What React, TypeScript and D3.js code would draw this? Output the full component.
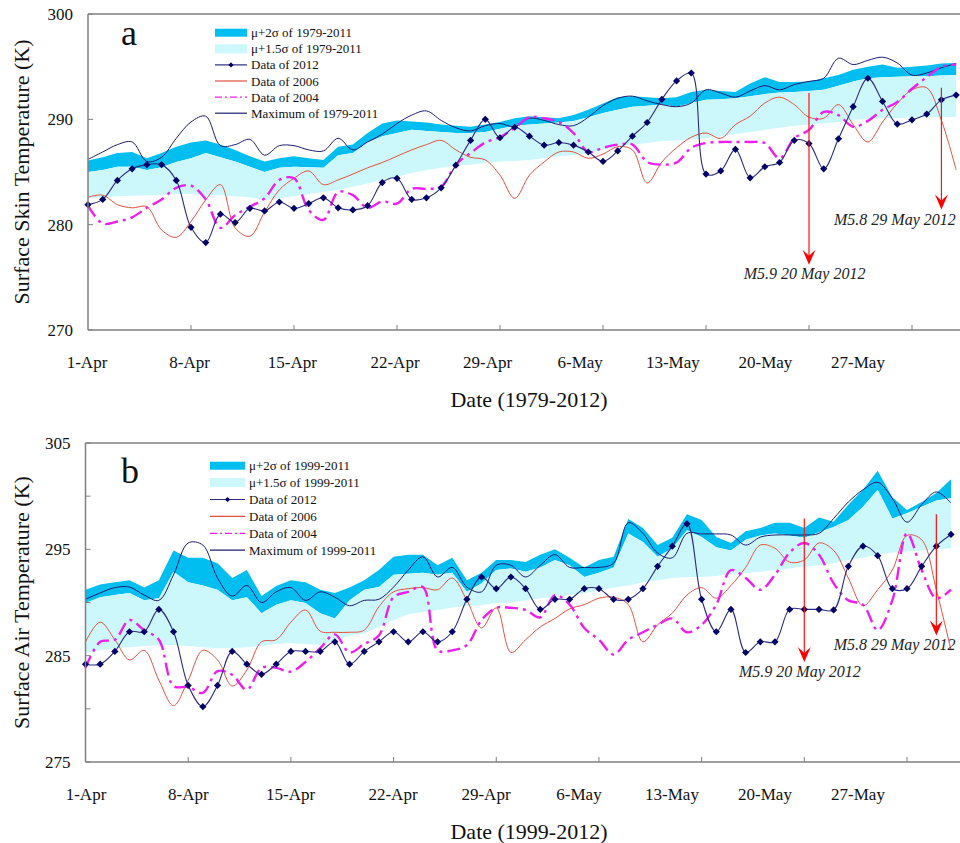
import React from "react";
import * as d3 from "d3";

// ---------- categories ----------
const DAYS = d3.range(60); // 1-Apr .. 30-May (day index)
const TICK_DAYS = [0, 7, 14, 21, 28, 35, 42, 49, 56];
const TICK_LABELS = ["1-Apr", "8-Apr", "15-Apr", "22-Apr", "29-Apr", "6-May", "13-May", "20-May", "27-May"];

// ---------- panel a : surface skin temperature ----------
const A_Y_TICKS = [270, 280, 290, 300];
const A_Y_LABELS = [270, 280, 290, 300];
const A_SIGMA2 = [286.1,286.4,286.8,286.9,286.3,286.8,287.4,287.8,288.0,287.6,
  287.1,286.5,286.0,286.3,286.5,286.3,286.15,287.4,287.6,288.7,
  289.6,289.9,289.8,289.7,289.5,289.4,289.3,289.5,289.75,290.1,
  290.3,290.2,290.1,290.4,290.9,291.5,292.1,292.2,292.1,292.0,
  292.1,292.6,292.8,292.7,292.6,293.4,294.0,293.55,293.55,293.6,
  293.9,294.2,294.7,295.0,295.2,294.9,295.0,295.1,295.3,295.35];
const A_SIGMA15 = [285.0,285.2,285.5,285.5,285.2,285.45,285.95,286.3,286.8,286.4,
  286.0,285.5,285.0,285.4,285.5,285.45,285.4,286.6,286.8,287.8,
  288.4,288.7,289.0,288.9,288.8,288.7,288.7,288.8,289.1,289.4,
  289.5,289.6,289.7,289.85,290.2,290.6,290.9,291.2,291.3,291.4,
  291.2,291.55,291.85,291.9,292.0,292.2,292.4,292.55,292.6,292.7,
  292.8,293.2,293.6,293.9,294.0,294.05,294.1,294.1,294.15,294.2];
const A_BASE = [282.5,282.6,282.7,282.75,282.8,282.8,282.9,282.9,282.8,282.8,
  282.7,282.6,282.35,282.5,282.7,282.9,283.1,283.3,283.6,283.9,
  284.25,284.55,284.9,285.2,285.4,285.6,285.7,285.85,286.0,286.05,
  286.15,286.3,286.5,286.6,286.8,287.1,287.4,287.6,287.75,287.95,
  288.0,288.1,288.2,288.4,288.6,288.8,289.0,289.2,289.4,289.5,
  289.6,289.75,289.95,290.0,290.1,290.1,290.2,290.2,290.2,290.25];
const A_2012 = [281.9,282.4,284.2,285.3,285.7,285.7,284.2,279.75,278.3,281.0,
  280.2,281.55,281.3,282.15,281.55,282.0,282.55,281.6,281.4,281.8,
  284.0,284.4,282.4,282.55,283.5,285.65,288.0,290.0,288.25,289.25,
  288.4,287.55,287.8,287.55,286.9,286.0,287.0,288.4,289.7,291.9,
  293.65,294.4,284.8,285.1,287.15,284.45,285.5,285.9,288.0,287.7,
  285.3,288.15,291.2,293.9,291.7,289.55,289.95,290.5,291.85,292.3];
const A_2006 = [282.6,282.8,281.9,281.6,281.7,279.5,278.8,280.3,282.35,283.8,
  279.7,278.9,281.2,283.3,284.4,285.1,283.8,284.25,284.8,285.4,
  285.9,286.5,287.1,287.6,288.0,287.1,286.4,286.15,284.7,282.5,
  284.7,285.95,286.9,286.9,286.3,286.7,287.4,287.1,283.95,285.95,
  287.3,288.3,288.7,288.2,289.5,290.3,291.55,292.1,291.4,290.2,
  290.1,291.4,289.5,287.85,289.75,291.5,292.8,293.0,289.9,285.2];
const A_2004 = [281.8,280.1,280.3,280.7,281.6,282.4,283.5,283.7,282.4,279.7,
  280.9,281.7,282.5,284.25,284.4,281.4,280.45,283.1,282.8,281.6,
  282.2,282.0,283.4,283.4,283.6,285.7,286.8,287.8,288.3,289.2,
  290.2,290.1,289.75,288.7,286.9,287.3,287.6,287.6,285.95,285.7,
  285.9,287.3,287.75,287.85,287.85,287.85,287.75,286.3,288.2,289.0,
  290.7,290.4,289.3,289.85,290.9,291.65,292.9,294.0,295.0,295.2];
const A_MAX = [286.2,286.9,287.6,287.85,286.0,286.4,288.2,289.75,290.3,287.5,
  287.6,288.1,286.6,287.5,287.5,287.1,287.0,288.2,287.1,287.85,
  288.6,289.6,290.4,290.8,289.9,289.2,288.9,289.4,289.6,289.3,
  290.1,289.9,289.5,289.4,290.2,291.3,292.0,292.2,291.75,291.4,
  291.2,291.55,292.8,292.5,292.1,292.7,293.2,292.8,293.3,293.6,
  293.9,295.8,295.2,295.6,295.9,295.35,294.2,294.4,294.9,295.3];
const A_LEGEND = ["\u03bc+2\u03c3 of 1979-2011", "\u03bc+1.5\u03c3 of 1979-2011", "Data of 2012", "Data of 2006", "Data of 2004", "Maximum of 1979-2011"];
const A_QUAKES = [
  { day: 49, from: 292.5, to: 276.2, label: "M5.9 20 May 2012", labelDay: 48.7, labelVal: 274.8, anchor: "middle" },
  { day: 58, from: 293.0, to: 281.45, label: "M5.8 29 May 2012", labelDay: 50.7, labelVal: 280.0, anchor: "start" },
];

// ---------- panel b : surface air temperature ----------
const B_Y_TICKS = [275, 280, 285, 290, 295, 300, 305];
const B_Y_LABELS = [275, 285, 295, 305];
const B_SIGMA2 = [291.2,291.7,291.9,292.1,291.4,292.1,294.9,294.2,294.2,293.7,
  292.3,293.05,290.6,291.55,292.1,291.9,291.2,290.9,291.4,292.1,
  293.05,294.3,294.5,294.5,293.5,294.2,292.1,292.8,294.0,294.0,
  293.8,294.5,295.0,294.2,293.3,294.0,294.3,297.85,297.0,295.4,
  296.1,298.3,297.75,296.15,295.6,296.7,297.0,297.5,297.5,297.0,
  298.0,297.6,299.2,300.6,302.4,299.9,298.7,299.45,300.3,301.6];
const B_SIGMA15 = [289.95,290.5,290.7,290.9,290.2,290.4,292.9,291.9,291.6,291.2,
  290.2,290.5,289.0,289.8,290.2,289.95,289.0,288.5,290.2,291.2,
  291.45,292.6,292.7,292.8,292.6,292.8,291.0,291.8,293.05,293.2,
  292.9,293.3,294.0,293.5,292.4,292.8,293.3,296.5,295.7,294.3,
  295.1,296.8,296.15,295.2,294.9,295.9,296.3,296.5,296.3,296.1,
  296.6,297.1,297.75,299.0,300.6,297.9,298.4,299.0,299.6,299.8];
const B_BASE = [285.3,285.5,285.7,285.8,285.9,286.0,286.0,285.9,285.8,285.7,
  285.7,285.8,285.9,286.1,286.2,286.1,286.0,286.5,286.85,287.1,
  287.7,288.35,288.9,289.1,289.3,289.5,289.7,289.75,289.95,290.0,
  290.2,290.4,290.5,290.7,290.9,291.1,291.4,291.6,291.9,292.1,
  292.3,292.4,292.4,292.5,292.7,292.8,292.9,293.05,293.2,293.4,
  293.5,293.7,294.0,294.2,294.5,294.7,294.8,294.9,295.0,295.1];
const B_2012 = [284.2,284.2,285.4,287.25,287.25,289.35,287.25,282.2,280.2,282.2,
  285.4,284.2,283.25,284.2,285.4,285.4,285.4,286.3,284.2,285.4,
  286.3,287.25,286.3,287.25,286.3,287.25,290.3,292.4,291.3,292.4,
  291.3,289.35,290.3,290.3,291.3,291.3,290.3,290.3,291.3,293.4,
  295.3,297.4,290.3,287.25,289.35,285.3,286.3,286.3,289.35,289.35,
  289.35,289.3,293.4,295.3,294.4,291.3,291.3,293.4,295.3,296.4];
const B_2006 = [286.3,288.15,286.5,284.6,285.5,282.7,280.3,282.7,285.5,284.6,
  282.15,283.65,286.3,286.5,288.15,289.3,287.3,287.2,287.2,287.4,
  289.6,291.0,291.3,291.4,291.2,292.3,290.2,287.6,289.5,285.3,
  286.5,287.7,288.5,289.4,289.8,290.4,290.5,289.8,286.3,287.9,
  289.0,290.7,291.4,290.4,291.6,293.3,295.4,295.1,293.8,294.0,
  295.6,294.9,292.3,289.7,291.2,293.05,296.3,295.9,291.2,285.5];
const B_2004 = [283.85,286.3,286.5,288.35,287.4,286.5,282.15,282.05,281.5,283.55,
  283.2,281.8,283.85,283.85,283.5,284.4,285.7,287.0,285.3,286.1,
  286.9,290.5,291.0,291.45,285.5,285.5,286.0,288.35,289.5,289.5,
  289.3,288.6,290.7,289.8,287.6,286.5,285.1,286.5,287.2,287.9,
  288.5,287.2,287.9,289.8,293.05,292.3,291.2,292.6,294.7,295.6,
  294.5,291.8,290.2,289.8,287.4,290.2,296.5,293.05,290.4,291.2];
const B_MAX = [290.3,290.9,291.4,291.45,290.7,290.2,292.6,295.6,295.4,292.3,
  290.6,291.6,290.0,291.0,291.4,290.2,291.0,290.5,289.7,290.2,
  290.3,291.45,293.05,294.3,292.4,293.3,291.45,291.0,293.5,293.5,
  292.4,293.5,294.5,293.3,293.3,293.3,293.7,297.5,296.5,294.65,
  294.2,296.5,296.45,296.45,296.35,295.4,296.15,296.35,296.35,296.35,
  296.5,297.9,299.45,300.6,301.3,299.8,297.55,299.2,300.4,299.35];
const B_LEGEND = ["\u03bc+2\u03c3 of 1999-2011", "\u03bc+1.5\u03c3 of 1999-2011", "Data of 2012", "Data of 2006", "Data of 2004", "Maximum of 1999-2011"];
const B_QUAKES = [
  { day: 49, from: 297.9, to: 284.4, label: "M5.9 20 May 2012", labelDay: 48.7, labelVal: 283.0, anchor: "middle" },
  { day: 58, from: 298.3, to: 286.9, label: "M5.8 29 May 2012", labelDay: 51.0, labelVal: 285.5, anchor: "start" },
];

// ---------- styling ----------
const C_DARK = "#00bff0";
const C_LIGHT = "#ccf8fb";
const C_2012 = "#2a2a82";
const C_MARK = "#000066";
const C_2006 = "#e4503e";
const C_2004 = "#ee1fee";
const C_MAX = "#1c1c70";
const C_AXIS = "#808080";
const FONT = "'Liberation Serif', 'Times New Roman', serif";

type Quake = { day: number; from: number; to: number; label: string; labelDay: number; labelVal: number; anchor: string };

type PanelProps = {
  xRange: [number, number];
  labelRange: [number, number, number];
  yDomain: [number, number];
  yRange: [number, number];
  yTicks: number[];
  yLabels: number[];
  sig2: number[]; sig15: number[]; base: number[];
  d2012: number[]; d2006: number[]; d2004: number[]; dmax: number[];
  legend: string[];
  legendX: number; legendY: number; legendStep: number; swatchW: number;
  letter: string; letterX: number; letterY: number;
  yTitle: string; xTitle: string;
  quakes: Quake[];
};

function Diamond({ cx, cy, r }: { cx: number; cy: number; r: number }) {
  return <path d={`M${cx},${cy - r}L${cx + r},${cy}L${cx},${cy + r}L${cx - r},${cy}Z`} fill={C_MARK} />;
}

function Panel(p: PanelProps) {
  const x = d3.scaleLinear().domain([0, 56]).range(p.xRange);
  // label row of the date axis is set slightly tighter than the ticks in the original figure
  const xl = d3.scaleLinear().domain([0, 3, 8]).range(p.labelRange);
  const y = d3.scaleLinear().domain(p.yDomain).range(p.yRange);
  const x0 = p.xRange[0];
  const xEnd = 960;
  const top = p.yRange[1];
  const bottom = p.yRange[0];

  const band = (lo: number[], hi: number[]) =>
    d3.area<number>().x((d) => x(d)).y0((d) => y(lo[d])).y1((d) => y(hi[d]))(DAYS) || "";
  const curve = (vals: number[]) =>
    d3.line<number>().x((d) => x(d)).y((d) => y(vals[d])).curve(d3.curveCatmullRom.alpha(0.5))(DAYS) || "";

  const lx1 = p.legendX, lx2 = p.legendX + p.swatchW;
  const rowY = (i: number) => p.legendY + i * p.legendStep;

  return (
    <g>
      {/* bands */}
      <path d={band(p.sig15, p.sig2)} fill={C_DARK} />
      <path d={band(p.base, p.sig15)} fill={C_LIGHT} />
      {/* lines */}
      <path d={curve(p.dmax)} fill="none" stroke={C_MAX} strokeWidth={1} />
      <path d={curve(p.d2006)} fill="none" stroke={C_2006} strokeWidth={1} />
      <path d={curve(p.d2004)} fill="none" stroke={C_2004} strokeWidth={2.4} strokeDasharray="13,5,3,5" />
      <path d={curve(p.d2012)} fill="none" stroke={C_2012} strokeWidth={1.1} />
      {DAYS.map((d) => (
        <Diamond key={d} cx={x(d)} cy={y(p.d2012[d])} r={3.6} />
      ))}

      {/* frame & axes */}
      <line x1={x0} x2={xEnd} y1={top} y2={top} stroke={C_AXIS} strokeWidth={1.5} />
      <line x1={x0} x2={x0} y1={top} y2={bottom} stroke={C_AXIS} strokeWidth={1.5} />
      <line x1={x0} x2={xEnd} y1={bottom} y2={bottom} stroke={C_AXIS} strokeWidth={1.5} />
      {p.yTicks.map((t) => (
        <line key={"yt" + t} x1={x0} x2={x0 + 5} y1={y(t)} y2={y(t)} stroke={C_AXIS} strokeWidth={1} />
      ))}
      {p.yLabels.map((t) => (
        <text key={"yl" + t} x={x0 - 15} y={y(t) + 6} textAnchor="end" fontSize={17} fontFamily={FONT} fill="#111">{t}</text>
      ))}
      {TICK_DAYS.map((d, i) => (
        <g key={"xt" + d}>
          {i > 0 && <line x1={x(d)} x2={x(d)} y1={bottom} y2={bottom - 5} stroke={C_AXIS} strokeWidth={1} />}
          <text x={xl(i)} y={bottom + 38} textAnchor="middle" fontSize={17} fontFamily={FONT} fill="#111">{TICK_LABELS[i]}</text>
        </g>
      ))}
      <text x={529} y={bottom + 77} textAnchor="middle" fontSize={22} fontFamily={FONT} fill="#111">{p.xTitle}</text>
      <text transform={`translate(29,${(top + bottom) / 2}) rotate(-90)`} textAnchor="middle" fontSize={22} fontFamily={FONT} fill="#111">{p.yTitle}</text>
      <text x={p.letterX} y={p.letterY} fontSize={36} fontFamily={FONT} fill="#111">{p.letter}</text>

      {/* legend */}
      <rect x={lx1} y={rowY(0) - 4} width={p.swatchW} height={8} fill={C_DARK} />
      <rect x={lx1} y={rowY(1) - 4.5} width={p.swatchW} height={9} fill={C_LIGHT} />
      <line x1={lx1} x2={lx2} y1={rowY(2)} y2={rowY(2)} stroke={C_2012} strokeWidth={1.2} />
      <Diamond cx={(lx1 + lx2) / 2} cy={rowY(2)} r={2.6} />
      <line x1={lx1} x2={lx2} y1={rowY(3)} y2={rowY(3)} stroke={C_2006} strokeWidth={1.2} />
      <line x1={lx1} x2={lx2} y1={rowY(4)} y2={rowY(4)} stroke={C_2004} strokeWidth={1.2} strokeDasharray="7,3,2,3" />
      <line x1={lx1} x2={lx2} y1={rowY(5)} y2={rowY(5)} stroke={C_MAX} strokeWidth={1.2} />
      {p.legend.map((s, i) => (
        <text key={"lg" + i} x={lx2 + 4} y={rowY(i) + 4.5} fontSize={13} fontFamily={FONT} fill="#111">{s}</text>
      ))}

      {/* earthquake markers */}
      {p.quakes.map((q, i) => {
        const ax = x(q.day);
        const ty = y(q.to);
        return (
          <g key={"q" + i}>
            <line x1={ax} x2={ax} y1={y(q.from)} y2={ty - 8} stroke="#ff1010" strokeWidth={1.2} />
            <path d={`M${ax},${ty}L${ax - 6.5},${ty - 15}L${ax},${ty - 9}L${ax + 6.5},${ty - 15}Z`} fill="#ff0000" />
            <text x={x(q.labelDay)} y={y(q.labelVal)} textAnchor={q.anchor as any} fontSize={16} fontStyle="italic" fontFamily={FONT} fill="#222">{q.label}</text>
          </g>
        );
      })}
    </g>
  );
}

export default function App() {
  return (
    <svg width={960} height={843} style={{ position: "absolute", left: 0, top: 0, background: "#fff" }}>
      <rect x={0} y={0} width={960} height={843} fill="#fff" />
      <Panel
        xRange={[88, 912]} labelRange={[87, 395, 858]} yDomain={[270, 300]} yRange={[330, 14]}
        yTicks={A_Y_TICKS} yLabels={A_Y_LABELS}
        sig2={A_SIGMA2} sig15={A_SIGMA15} base={A_BASE}
        d2012={A_2012} d2006={A_2006} d2004={A_2004} dmax={A_MAX}
        legend={A_LEGEND} legendX={215} legendY={32.7} legendStep={16.1} swatchW={32}
        letter="a" letterX={121} letterY={45}
        yTitle="Surface Skin Temperature (K)" xTitle="Date (1979-2012)"
        quakes={A_QUAKES}
      />
      <Panel
        xRange={[85.5, 907]} labelRange={[86, 393, 858]} yDomain={[275, 305]} yRange={[762, 443]}
        yTicks={B_Y_TICKS} yLabels={B_Y_LABELS}
        sig2={B_SIGMA2} sig15={B_SIGMA15} base={B_BASE}
        d2012={B_2012} d2006={B_2006} d2004={B_2004} dmax={B_MAX}
        legend={B_LEGEND} legendX={210} legendY={465.7} legendStep={16.9} swatchW={35}
        letter="b" letterX={121} letterY={483}
        yTitle="Surface Air Temperature (K)" xTitle="Date (1999-2012)"
        quakes={B_QUAKES}
      />
    </svg>
  );
}
